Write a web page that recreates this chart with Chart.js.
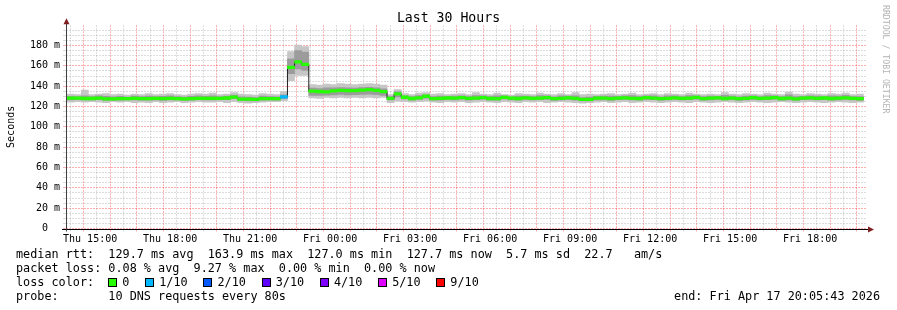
<!DOCTYPE html>
<html>
<head>
<meta charset="utf-8">
<title>Last 30 Hours</title>
<script src="https://cdn.jsdelivr.net/npm/chart.js"></script>
<style>
  body { margin: 0; background: #fff; }
  #wrap { position: relative; width: 897px; height: 310px; font-family: "DejaVu Sans Mono", monospace; background: #fff; }
  #chart { position: absolute; left: 0; top: 0; }
  .row { position: absolute; left: 16px; height: 14px; line-height: 14px; font-size: 11.8px; white-space: pre; color: #000; }
  .box { display: inline-block; width: 7px; height: 7px; border: 1px solid #000; vertical-align: -1px; margin-right: 5px; }
  .lossItem { margin-right: 15.8px; }
  #end { left: auto; right: 17px; }
  #mark { position: absolute; left: 881px; top: 5px; writing-mode: vertical-rl; font-size: 8.2px; color: #b4b4b4; white-space: pre; }
</style>
</head>
<body>
<div id="wrap">
  <canvas id="chart" width="897" height="310"></canvas>
  <div id="mark">RRDTOOL / TOBI OETIKER</div>
  <div class="row" style="top:247px">median rtt:  129.7 ms avg  163.9 ms max  127.0 ms min  127.7 ms now  5.7 ms sd  22.7   am/s</div>
  <div class="row" style="top:261px">packet loss: 0.08 % avg  9.27 % max  0.00 % min  0.00 % now</div>
  <div class="row" id="lossRow" style="top:275px">loss color:  </div>
  <div class="row" style="top:289px">probe:       10 DNS requests every 80s</div>
  <div class="row" id="end" style="top:289px">end: Fri Apr 17 20:05:43 2026</div>
</div>
<script>
// 16 minute steps, Thu 14:08 .. Fri 20:00 (values in ms)
const medianRtt = [
  128.2, 128.2, 127.9, 127.9, 128.3, 127.6, 127.6, 127.8, 127.8, 128.1,
  127.8, 127.8, 128.1, 127.8, 128.1, 127.8, 127.5, 127.8, 128.1, 128.1,
  128.1, 128.1, 128.4, 129.3, 127.2, 127.2, 127.0, 127.8, 127.8, 127.8,
  129.4, 158.6, 163.9, 161.4, 135.2, 134.8, 134.4, 135.4, 135.9, 135.7,
  135.6, 136.1, 136.6, 135.9, 134.6, 128.0, 132.4, 129.1, 127.9, 128.5,
  130.1, 127.8, 128.0, 128.4, 128.2, 128.8, 128.0, 128.3, 128.7, 127.9,
  127.8, 129.0, 128.2, 127.9, 128.6, 128.0, 128.3, 128.8, 127.7, 128.1,
  128.5, 128.0, 127.0, 127.1, 128.2, 128.2, 127.8, 128.3, 128.6, 128.0,
  127.9, 128.7, 128.3, 127.8, 128.1, 128.6, 128.0, 128.3, 128.9, 127.8,
  128.2, 128.5, 127.9, 128.3, 127.7, 128.1, 128.7, 128.0, 128.3, 128.8,
  127.9, 128.2, 127.6, 128.3, 128.6, 128.0, 128.4, 127.9, 128.2, 128.5,
  128.0, 127.7
];
const smokeMin = [
  124.3, 124.8, 124.3, 124.8, 124.3, 123.8, 124.8, 124.3, 124.8, 123.8,
  124.3, 123.8, 124.8, 123.8, 124.3, 124.8, 123.8, 124.3, 124.8, 124.3,
  124.3, 124.8, 123.8, 124.8, 123.8, 123.3, 123.8, 124.3, 124.8, 124.8,
  125.8, 145.5, 150.5, 150.5, 128.5, 128.0, 129.0, 128.5, 129.0, 128.5,
  129.0, 128.5, 129.0, 128.5, 129.0, 123.8, 125.3, 124.8, 124.3, 124.8,
  125.3, 124.3, 123.8, 124.8, 124.3, 124.8, 123.8, 124.3, 124.8, 124.3,
  123.8, 124.8, 124.3, 123.8, 124.8, 124.3, 124.8, 123.8, 124.3, 124.8,
  124.3, 123.8, 123.3, 123.8, 124.3, 124.8, 123.8, 124.3, 124.8, 123.8,
  124.3, 124.8, 124.3, 123.8, 124.3, 124.8, 124.3, 123.8, 124.8, 124.3,
  123.8, 124.3, 124.8, 124.3, 123.8, 124.3, 124.8, 124.3, 123.8, 124.3,
  124.8, 124.3, 123.8, 124.3, 124.8, 124.3, 123.8, 124.3, 124.8, 124.3,
  123.8, 124.3
];
const smokeLow = [
  126.6, 126.8, 126.4, 126.5, 126.8, 126.0, 126.2, 126.3, 126.4, 126.5,
  126.3, 126.2, 126.6, 126.1, 126.6, 126.4, 125.9, 126.3, 126.7, 126.5,
  126.5, 126.7, 126.8, 127.6, 125.7, 125.6, 125.5, 126.3, 126.4, 126.3,
  127.8, 152.3, 157.0, 155.5, 131.0, 130.8, 131.2, 131.4, 131.8, 131.5,
  131.6, 131.8, 132.2, 131.6, 131.0, 126.4, 129.5, 127.5, 126.3, 126.9,
  128.3, 126.2, 126.3, 126.9, 126.6, 127.2, 126.3, 126.7, 127.2, 126.3,
  126.2, 127.4, 126.6, 126.3, 127.0, 126.4, 126.7, 127.2, 126.1, 126.6,
  126.9, 126.3, 125.6, 125.6, 126.6, 126.6, 126.1, 126.7, 127.0, 126.4,
  126.3, 127.1, 126.8, 126.2, 126.5, 127.0, 126.4, 126.8, 127.3, 126.2,
  126.6, 126.9, 126.4, 126.7, 126.1, 126.5, 127.1, 126.4, 126.7, 127.2,
  126.3, 126.6, 126.0, 126.7, 127.0, 126.4, 126.8, 126.3, 126.6, 126.9,
  126.4, 126.1
];
const smokeHigh = [
  130.0, 129.8, 130.6, 129.8, 130.4, 130.0, 129.5, 130.0, 129.4, 130.2,
  129.7, 130.3, 129.9, 130.0, 130.4, 129.7, 129.2, 130.0, 130.4, 130.1,
  130.6, 129.9, 130.2, 131.2, 129.5, 129.3, 128.9, 130.2, 129.8, 129.6,
  131.5, 167.0, 175.0, 173.5, 138.2, 137.6, 138.4, 138.3, 138.6, 138.5,
  138.2, 138.7, 139.0, 138.5, 137.5, 129.8, 134.5, 130.6, 129.7, 130.7,
  131.6, 129.8, 130.2, 130.0, 130.2, 130.6, 129.8, 130.8, 130.4, 129.7,
  130.4, 130.5, 129.6, 130.3, 130.3, 129.7, 130.7, 130.5, 129.6, 130.4,
  130.2, 130.6, 128.9, 129.3, 130.0, 130.2, 130.3, 130.0, 130.4, 130.8,
  129.8, 130.4, 130.5, 129.6, 130.4, 130.4, 129.8, 130.8, 130.5, 129.7,
  130.2, 130.0, 130.9, 130.3, 129.5, 130.3, 130.5, 129.8, 130.7, 130.5,
  129.8, 131.4, 129.8, 130.0, 130.6, 130.3, 129.9, 130.4, 130.2, 130.9,
  129.8, 129.8
];
const smokeMax = [
  132.2, 131.7, 136.2, 131.7, 132.2, 132.7, 131.7, 132.2, 131.2, 132.2,
  131.7, 132.7, 131.7, 132.2, 132.7, 131.7, 131.2, 132.2, 132.7, 132.2,
  133.2, 131.7, 132.2, 133.7, 132.2, 131.7, 131.2, 132.7, 132.2, 131.7,
  134.7, 174.0, 180.5, 179.0, 141.5, 141.0, 142.0, 141.5, 142.5, 142.0,
  141.5, 142.0, 142.5, 142.0, 141.0, 131.7, 136.7, 132.7, 131.7, 133.2,
  133.7, 132.2, 132.7, 131.7, 132.2, 132.7, 131.7, 133.7, 132.2, 131.7,
  133.2, 131.7, 131.2, 132.7, 132.2, 131.7, 133.2, 132.2, 131.7, 132.7,
  131.7, 133.7, 131.7, 132.2, 131.7, 132.2, 132.7, 131.7, 132.2, 133.2,
  131.7, 132.2, 132.7, 131.7, 132.7, 132.2, 131.7, 133.2, 132.2, 131.7,
  132.2, 131.7, 133.7, 132.2, 131.7, 132.7, 132.2, 131.7, 133.2, 132.2,
  131.7, 134.2, 132.2, 131.7, 132.7, 132.2, 131.7, 132.7, 132.2, 133.2,
  131.7, 132.2
];
// lost pings out of 10 per step
const lossCount = [
  0, 0, 0, 0, 0, 0, 0, 0, 0, 0,
  0, 0, 0, 0, 0, 0, 0, 0, 0, 0,
  0, 0, 0, 0, 0, 0, 0, 0, 0, 0,
  1, 0, 0, 0, 0, 0, 0, 0, 0, 0,
  0, 0, 0, 0, 0, 0, 0, 0, 0, 0,
  0, 0, 0, 0, 0, 0, 0, 0, 0, 0,
  0, 0, 0, 0, 0, 0, 0, 0, 0, 0,
  0, 0, 0, 0, 0, 0, 0, 0, 0, 0,
  0, 0, 0, 0, 0, 0, 0, 0, 0, 0,
  0, 0, 0, 0, 0, 0, 0, 0, 0, 0,
  0, 0, 0, 0, 0, 0, 0, 0, 0, 0,
  0, 0
];
const lossSteps = [0, 1, 2, 3, 4, 5, 9];
const lossLabels = ['0', '1/10', '2/10', '3/10', '4/10', '5/10', '9/10'];
const lossColors = ['#26ff00', '#00b8ff', '#0059ff', '#5e00ff', '#7e00ff', '#dd00ff', '#ff0000'];
const dayNames = ['Thu', 'Fri'];

// time axis: graph starts Thu 14:05:43 and spans 30 hours
const startMinute = 14 * 60 + 5 + 43 / 60;
const spanHours = 30;
const stepMinutes = 16;
const firstStepCenter = 14 * 60 + 16;

const stepX = medianRtt.map((_, i) => (firstStepCenter + i * stepMinutes - startMinute) / 60);

function lossColor(n) {
  let idx = 0;
  lossSteps.forEach((s, i) => { if (n >= s) idx = i; });
  return lossColors[idx];
}

function minuteOf(v) {
  return Math.round(startMinute + v * 60);
}

const xTickValues = [];
for (let m = Math.ceil(startMinute / 30) * 30; m <= startMinute + spanHours * 60; m += 30) {
  xTickValues.push((m - startMinute) / 60);
}
const yTickValues = [];
for (let v = 0; v < 200; v += 5) yTickValues.push(v);

const MGRID = 'rgba(255, 0, 0, 0.32)';
const GRID = 'rgba(128, 128, 128, 0.28)';

const axisArrows = {
  id: 'axisArrows',
  afterDraw(chart) {
    const { ctx, chartArea: a } = chart;
    const x0 = Math.round(a.left) + 0.5;
    const y0 = Math.round(a.bottom) + 0.5;
    ctx.save();
    ctx.lineWidth = 1;
    ctx.strokeStyle = '#000';
    ctx.beginPath();
    ctx.moveTo(a.left - 4, y0);
    ctx.lineTo(a.right + 3, y0);
    ctx.stroke();
    ctx.strokeStyle = '#404040';
    ctx.beginPath();
    ctx.moveTo(x0, a.bottom + 3);
    ctx.lineTo(x0, a.top - 2);
    ctx.stroke();
    ctx.fillStyle = '#7f1f1f';
    ctx.beginPath();
    ctx.moveTo(a.right + 2, y0 - 3);
    ctx.lineTo(a.right + 8, y0);
    ctx.lineTo(a.right + 2, y0 + 3);
    ctx.closePath();
    ctx.fill();
    ctx.beginPath();
    ctx.moveTo(x0 - 3, a.top - 1);
    ctx.lineTo(x0, a.top - 7);
    ctx.lineTo(x0 + 3, a.top - 1);
    ctx.closePath();
    ctx.fill();
    ctx.restore();
  }
};

Chart.defaults.font.family = "'DejaVu Sans Mono', monospace";
Chart.defaults.color = '#000';

const barOpts = { grouped: false, barPercentage: 1, categoryPercentage: 1, borderWidth: 0 };

new Chart(document.getElementById('chart'), {
  type: 'bar',
  data: {
    datasets: [
      Object.assign({
        label: 'median',
        order: 1,
        data: medianRtt.map((m, i) => ({ x: stepX[i], y: [m - 1.3, m + 1.3] })),
        backgroundColor: lossCount.map(lossColor)
      }, barOpts),
      {
        type: 'line',
        label: 'median line',
        order: 2,
        data: medianRtt.map((m, i) => ({ x: stepX[i], y: m })),
        stepped: 'middle',
        borderColor: '#202020',
        borderWidth: 1,
        pointRadius: 0
      },
      Object.assign({
        label: 'smoke inner',
        order: 3,
        data: smokeLow.map((v, i) => ({ x: stepX[i], y: [v, smokeHigh[i]] })),
        backgroundColor: '#9c9c9c'
      }, barOpts),
      Object.assign({
        label: 'smoke outer',
        order: 4,
        data: smokeMin.map((v, i) => ({ x: stepX[i], y: [v, smokeMax[i]] })),
        backgroundColor: '#c6c6c6'
      }, barOpts)
    ]
  },
  options: {
    responsive: false,
    animation: false,
    devicePixelRatio: 1,
    layout: { padding: { left: 0, right: 0, top: 0, bottom: 61.5 } },
    plugins: {
      legend: { display: false },
      tooltip: { enabled: false },
      title: {
        display: true,
        text: 'Last 30 Hours',
        color: '#000',
        font: { size: 13.2, weight: 'normal', lineHeight: 1 },
        padding: { top: 12, bottom: 0 }
      }
    },
    scales: {
      x: {
        type: 'linear',
        min: 0,
        max: spanHours,
        offset: false,
        afterBuildTicks: (s) => { s.ticks = xTickValues.map(v => ({ value: v })); },
        afterFit: (s) => { s.height = 20; },
        ticks: {
          autoSkip: false,
          maxRotation: 0,
          minRotation: 0,
          padding: 2,
          font: { size: 10 },
          callback: (v) => {
            const m = minuteOf(v);
            const h = Math.floor(m / 60);
            if (m % 60 !== 0 || h % 3 !== 0) return '';
            return dayNames[Math.floor(h / 24)] + ' ' + String(h % 24).padStart(2, '0') + ':00';
          }
        },
        grid: {
          color: (c) => (c.tick && minuteOf(c.tick.value) % 60 === 0 ? MGRID : GRID),
          tickLength: 3
        },
        border: { display: false, dash: [2, 1] }
      },
      y: {
        min: 0,
        max: 200,
        afterBuildTicks: (s) => { s.ticks = yTickValues.map(v => ({ value: v })); },
        afterFit: (s) => { s.width = 66; },
        ticks: {
          autoSkip: false,
          padding: 3,
          font: { size: 10 },
          callback: (v) => (v % 20 !== 0 ? '' : (v === 0 ? '0  ' : v + ' m'))
        },
        grid: {
          color: (c) => (c.tick && c.tick.value % 20 === 0 ? MGRID : GRID),
          tickLength: 3
        },
        border: { display: false, dash: [2, 1] },
        title: {
          display: true,
          text: 'Seconds',
          font: { size: 10 },
          padding: { top: 5, bottom: 0 }
        }
      },
      // empty right-hand strip so the title centres on the whole image
      yRight: {
        position: 'right',
        display: true,
        min: 0,
        max: 200,
        ticks: { display: false },
        grid: { display: false },
        border: { display: false },
        afterFit: (s) => { s.width = 31; }
      }
    }
  },
  plugins: [axisArrows]
});

// loss colour legend
const lossRow = document.getElementById('lossRow');
lossLabels.forEach((label, i) => {
  const box = document.createElement('span');
  box.className = 'box';
  box.style.background = lossColors[i];
  const text = document.createElement('span');
  text.className = 'lossItem';
  text.textContent = label;
  lossRow.appendChild(box);
  lossRow.appendChild(text);
});
</script>
</body>
</html>
